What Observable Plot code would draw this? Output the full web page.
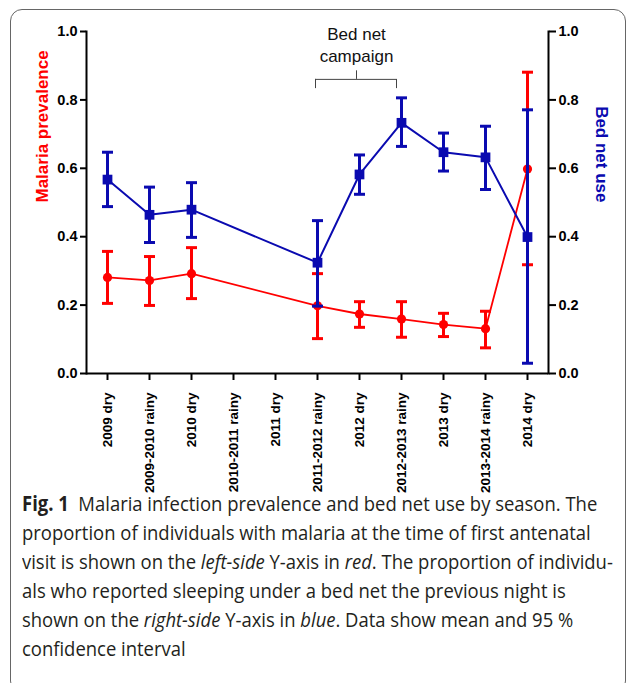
<!DOCTYPE html>
<html><head><meta charset="utf-8">
<script src="https://cdn.jsdelivr.net/npm/d3@7"></script>
<script src="https://cdn.jsdelivr.net/npm/@observablehq/plot@0.6"></script>
<style>
body{margin:0;background:#fff;}
#wrap{position:relative;width:627px;height:683px;overflow:hidden;}
#chart{position:absolute;left:0;top:0;}
#caption{position:absolute;left:22px;top:489px;font-family:"Open Sans",sans-serif;font-size:20.5px;line-height:29px;color:#231f20;white-space:nowrap;transform:scaleX(0.9);transform-origin:0 0;}
#caption b{font-weight:700;}
#frame{position:absolute;left:10px;top:9px;width:614px;height:682px;border:1.3px solid #666;border-radius:12px;pointer-events:none;}
</style></head>
<body><div id="wrap"><div id="chart"></div>
<div id="caption"><b>Fig. 1</b>&nbsp; Malaria infection prevalence and bed net use by season. The<br>proportion of individuals with malaria at the time of first antenatal<br>visit is shown on the <i>left-side</i> Y-axis in <i>red</i>. The proportion of individu-<br>als who reported sleeping under a bed net the previous night is<br>shown on the <i>right-side</i> Y-axis in <i>blue</i>. Data show mean and 95 %<br>confidence interval</div>
<div id="frame"></div></div>
<script>
const seasons = ["2009 dry","2009-2010 rainy","2010 dry","2010-2011 rainy","2011 dry","2011-2012 rainy","2012 dry","2012-2013 rainy","2013 dry","2013-2014 rainy","2014 dry"];
const observedSeasons = ["2009 dry","2009-2010 rainy","2010 dry","2011-2012 rainy","2012 dry","2012-2013 rainy","2013 dry","2013-2014 rainy","2014 dry"];
const malariaMean = [0.281,0.272,0.292,0.198,0.174,0.159,0.143,0.131,0.598];
const malariaLow  = [0.205,0.199,0.219,0.102,0.135,0.106,0.108,0.075,0.318];
const malariaHigh = [0.357,0.342,0.368,0.292,0.210,0.210,0.176,0.182,0.881];
const bednetMean = [0.567,0.464,0.479,0.324,0.582,0.733,0.647,0.632,0.399];
const bednetLow  = [0.488,0.383,0.398,0.197,0.524,0.664,0.592,0.538,0.030];
const bednetHigh = [0.647,0.545,0.558,0.447,0.639,0.806,0.703,0.723,0.771];
const yTicks = [0, 0.2, 0.4, 0.6, 0.8, 1.0];
const leftLabel = "Malaria prevalence";
const rightLabel = "Bed net use";
const campaignLabel = "Bed net\ncampaign";
const campaignStart = "2011-2012 rainy", campaignMid = "2012 dry", campaignEnd = "2012-2013 rainy";

const RED = "#ff0000", BLUE = "#0a0ab0";
const malaria = observedSeasons.map((s,i)=>({season:s, mean:malariaMean[i], low:malariaLow[i], high:malariaHigh[i]}));
const bednet = observedSeasons.map((s,i)=>({season:s, mean:bednetMean[i], low:bednetLow[i], high:bednetHigh[i]}));

// horizontal cap symbol for error bars
const capSymbol = {draw(ctx, size) { const r = Math.sqrt(size / Math.PI); ctx.moveTo(-r, 0); ctx.lineTo(r, 0); }};

function series(data, color, symbol, r, lw) {
  return [
    Plot.line(data, {x:"season", y:"mean", stroke:color, strokeWidth:lw}),
    Plot.ruleX(data, {x:"season", y1:"low", y2:"high", stroke:color, strokeWidth:3}),
    Plot.dot(data, {x:"season", y:"high", symbol: capSymbol, r: 5.5, stroke:color, strokeWidth:3, fill:"none"}),
    Plot.dot(data, {x:"season", y:"low", symbol: capSymbol, r: 5.5, stroke:color, strokeWidth:3, fill:"none"}),
    Plot.dot(data, {x:"season", y:"mean", fill:color, symbol, r, stroke:"none"})
  ];
}

const plot = Plot.plot({
  width: 627, height: 510,
  marginLeft: 86, marginRight: 79, marginTop: 31, marginBottom: 137,
  style: {fontFamily: "'Liberation Sans', Arial, sans-serif", background: "transparent", overflow: "visible", color: "#000"},
  x: {type: "point", domain: seasons, padding: 0.5, label: null},
  y: {domain: [0, 1], label: null},
  marks: [
    Plot.frame({anchor: "left", strokeWidth: 2}),
    Plot.frame({anchor: "right", strokeWidth: 2}),
    Plot.ruleY([0], {strokeWidth: 2}),
    Plot.axisY({anchor: "left", ticks: yTicks, tickFormat: d3.format(".1f"), tickSize: 6, tickPadding: 3, strokeWidth: 2, fontSize: 14.5, fontWeight: "bold", label: null}),
    Plot.axisY({anchor: "right", ticks: yTicks, tickFormat: d3.format(".1f"), tickSize: 7, tickPadding: 3, strokeWidth: 2, fontSize: 14.5, fontWeight: "bold", label: null}),
    Plot.axisX({ticks: seasons, tickRotate: -90, tickSize: 7, tickPadding: 12, strokeWidth: 2, fontSize: 13.5, fontWeight: "bold", label: null}),
    ...series(malaria, RED, "circle", 4.6, 1.8),
    ...series(bednet, BLUE, "square", 5.5, 2),
    Plot.text([leftLabel], {frameAnchor: "left", rotate: -90, dx: -44, fill: RED, fontWeight: "bold", fontSize: 17}),
    Plot.text([rightLabel], {frameAnchor: "right", rotate: 90, dx: 53, fill: BLUE, fontWeight: "bold", fontSize: 17}),
    Plot.text([campaignLabel], {x: () => campaignMid, y: () => 0.965, dx: -3, fontSize: 17, lineHeight: 1.3, fill: "#111"}),
    Plot.ruleY([0.86], {x1: () => campaignStart, x2: () => campaignEnd, stroke: "#444", strokeWidth: 1, insetLeft: -2, insetRight: 5}),
    Plot.ruleX([campaignStart], {y1: 0.833, y2: 0.86, stroke: "#444", strokeWidth: 1, dx: -2}),
    Plot.ruleX([campaignEnd], {y1: 0.833, y2: 0.86, stroke: "#444", strokeWidth: 1, dx: -5}),
    Plot.ruleX([campaignMid], {y1: 0.86, y2: 0.885, stroke: "#444", strokeWidth: 1, dx: -3})
  ]
});
document.getElementById("chart").appendChild(plot);
</script>
</body></html>
